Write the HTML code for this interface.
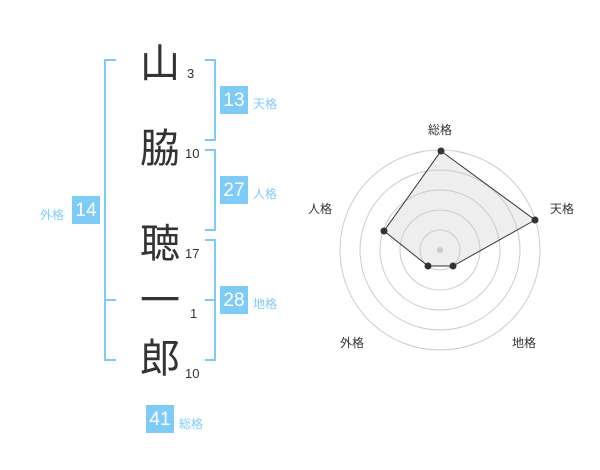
<!DOCTYPE html>
<html><head><meta charset="utf-8"><style>
body{margin:0;width:600px;height:470px;background:#fff;overflow:hidden;font-family:"Liberation Sans","Noto Sans CJK JP",sans-serif}
.k{position:absolute;font-size:40px;color:#333;width:50px;text-align:center;line-height:40px}
.n{position:absolute;font-size:13px;color:#333}
.b{position:absolute;width:28px;height:28px;background:#7fcbf7;color:#fff;font-size:19px;line-height:30px;text-align:center}
.l{position:absolute;font-size:12px;color:#7fcbf7}
</style></head><body>
<svg width="600" height="470" style="position:absolute;left:0;top:0" fill="none">
<g stroke="#7fcbf7" stroke-width="2">
<path d="M116 60H105V360H116M105 300H116"/>
<path d="M205 60H215V140H205"/>
<path d="M205 150H215V230H205"/>
<path d="M205 240H215V360H205M215 300H205"/>
</g>
<g stroke="#ccc" stroke-width="1">
<circle cx="440" cy="250" r="100"/><circle cx="440" cy="250" r="80"/><circle cx="440" cy="250" r="60"/><circle cx="440" cy="250" r="40"/><circle cx="440" cy="250" r="20"/>
</g>
<circle cx="440" cy="250" r="3" fill="#ccc"/>
<polygon points="441,151 535,220 453,266 428,266 384,231" fill="rgba(200,200,200,0.3)" stroke="#333" stroke-width="1"/>
<g fill="#333"><circle cx="441" cy="151" r="3.5"/><circle cx="535" cy="220" r="3.5"/><circle cx="453" cy="266" r="3.5"/><circle cx="428" cy="266" r="3.5"/><circle cx="384" cy="231" r="3.5"/></g>
<g fill="#333" font-size="12" font-family="Liberation Sans,Noto Sans CJK JP,sans-serif" text-anchor="middle">
<text x="440" y="134">総格</text><text x="562" y="213">天格</text><text x="524" y="347">地格</text><text x="352" y="347">外格</text><text x="320" y="213">人格</text>
</g>
</svg>
<div class="k" style="left:135px;top:44px">山</div><div class="n" style="left:187px;top:66px">3</div>
<div class="k" style="left:135px;top:129px">脇</div><div class="n" style="left:185px;top:146px">10</div>
<div class="k" style="left:135px;top:224px">聴</div><div class="n" style="left:185px;top:246px">17</div>
<div class="k" style="left:135px;top:281px">一</div><div class="n" style="left:190px;top:306px">1</div>
<div class="k" style="left:135px;top:339px">郎</div><div class="n" style="left:185px;top:366px">10</div>
<div class="b" style="left:220px;top:86px">13</div><div class="l" style="left:253px;top:95px">天格</div>
<div class="b" style="left:220px;top:176px">27</div><div class="l" style="left:253px;top:185px">人格</div>
<div class="b" style="left:220px;top:286px">28</div><div class="l" style="left:253px;top:295px">地格</div>
<div class="b" style="left:72px;top:196px">14</div><div class="l" style="left:40px;top:206px">外格</div>
<div class="b" style="left:146px;top:405px">41</div><div class="l" style="left:179px;top:415px">総格</div>
</body></html>
